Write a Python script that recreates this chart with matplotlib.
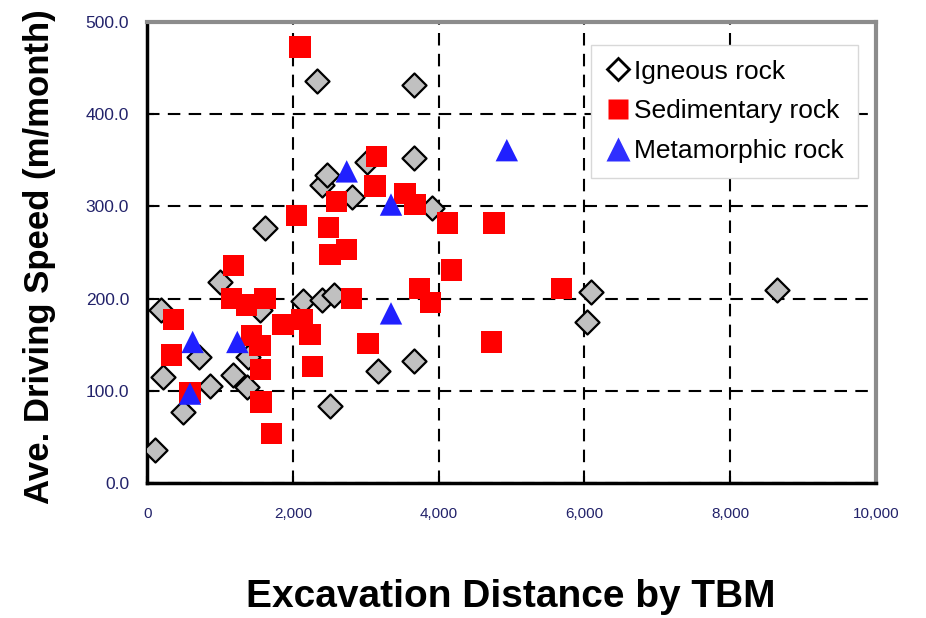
import matplotlib
matplotlib.use("Agg")
import matplotlib.pyplot as plt
from matplotlib.lines import Line2D

# Igneous rock (excavation distance, driving speed)
igneous_x = [107, 184, 211, 494, 714, 861, 1001, 1181, 1364, 1386, 1547, 1616,
             2133, 2333, 2393, 2393, 2462, 2508, 2565, 2806, 3022, 3172, 3661,
             3661, 3661, 3904, 6032, 6087, 8640]
igneous_y = [36, 188, 115, 77, 137, 105, 218, 117, 104, 137, 188, 277,
             197, 436, 199, 323, 334, 83, 204, 310, 348, 122, 432,
             352, 132, 298, 175, 207, 209]

# Sedimentary rock
sedim_x = [2096, 3149, 3126, 2600, 2051, 2485, 2737, 2508, 1181, 357, 1159, 1364,
           1616, 335, 586, 1433, 1547, 1555, 1560, 1708, 1864, 2123, 2233, 2265,
           2806, 3028, 3538, 3675, 4119, 4759, 4177, 3734, 3890, 4728, 5689]
sedim_y = [473, 354, 322, 305, 290, 277, 253, 248, 236, 177, 200, 193,
           200, 139, 98, 160, 149, 123, 88, 54, 172, 177, 161, 126,
           200, 151, 314, 302, 282, 282, 231, 211, 196, 153, 211]

# Metamorphic rock
meta_x = [623, 1236, 586, 2737, 4934, 3345, 3345]
meta_y = [153, 153, 97, 338, 361, 302, 184]

x_ticks = [0, 2000, 4000, 6000, 8000, 10000]
x_tick_labels = ["0", "2,000", "4,000", "6,000", "8,000", "10,000"]
y_ticks = [0, 100, 200, 300, 400, 500]
y_tick_labels = ["0.0", "100.0", "200.0", "300.0", "400.0", "500.0"]

FONT = ["Liberation Sans", "DejaVu Sans"]
TICK_COLOR = "#22226a"

fig = plt.figure(figsize=(9.26, 6.18), dpi=100)
ax = fig.add_axes([0.159, 0.2184, 0.787, 0.746])

ax.scatter(igneous_x, igneous_y, marker="D", s=150, facecolor="#c0c0c0",
           edgecolor="black", linewidth=1.6, zorder=3)
ax.scatter(sedim_x, sedim_y, marker="s", s=235, facecolor="#ff0000",
           edgecolor="none", zorder=4)
ax.scatter(meta_x, meta_y, marker="^", s=260, facecolor="#2020ff",
           edgecolor="none", zorder=5)

ax.set_xlim(0, 10000)
ax.set_ylim(0, 500)
ax.set_xticks(x_ticks)
ax.set_xticklabels(x_tick_labels, family=FONT, fontsize=11, color=TICK_COLOR)
ax.set_yticks(y_ticks)
ax.set_yticklabels(y_tick_labels, family=FONT, fontsize=12.5, color=TICK_COLOR)
ax.tick_params(axis="y", direction="in", length=5, width=1.5, pad=13)
ax.tick_params(axis="x", direction="in", length=5, width=1.5, pad=17)

ax.grid(True, color="black", linestyle=(0, (6, 4)), linewidth=1.5, zorder=1)
ax.set_axisbelow(True)

for side in ("left", "bottom"):
    ax.spines[side].set_color("black")
    ax.spines[side].set_linewidth(2.5)
for side in ("top", "right"):
    ax.spines[side].set_color("#8c8c8c")
    ax.spines[side].set_linewidth(3)

handles = [
    Line2D([], [], marker="D", linestyle="none", markersize=11,
           markerfacecolor="white", markeredgecolor="black", markeredgewidth=2),
    Line2D([], [], marker="s", linestyle="none", markersize=15,
           markerfacecolor="#ff0000", markeredgecolor="none"),
    Line2D([], [], marker="^", linestyle="none", markersize=17,
           markerfacecolor="#2f2fff", markeredgecolor="none"),
]
leg = ax.legend(handles, ["Igneous rock", "Sedimentary rock", "Metamorphic rock"],
                loc="upper right", bbox_to_anchor=(0.975, 0.95), borderaxespad=0,
                prop={"family": FONT, "size": 19}, handlelength=0.9,
                handletextpad=0.15, labelspacing=0.6, borderpad=0.55,
                frameon=True, fancybox=False, framealpha=1, edgecolor="#d8d8d8")
leg.set_zorder(6)

fig.text(40 / 926, 1 - 257 / 618, "Ave. Driving Speed (m/month)", rotation=90,
         ha="center", va="center", family=FONT, fontsize=25, fontweight="bold")
fig.text(511 / 926, 1 - 597 / 618, "Excavation Distance by TBM",
         ha="center", va="center", family=FONT, fontsize=28, fontweight="bold")

fig.savefig("out.png", dpi=100)
